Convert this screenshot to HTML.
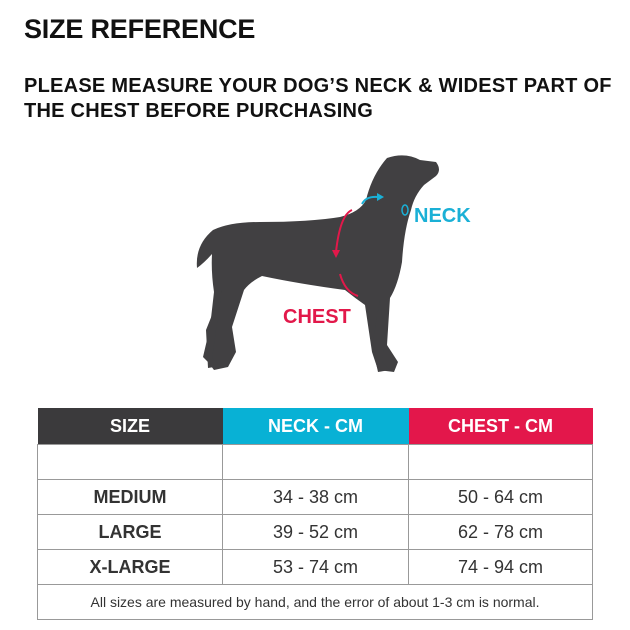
<!DOCTYPE html>
<html><head><meta charset="utf-8"><style>
body{margin:0;width:630px;height:630px;background:#fff;font-family:"Liberation Sans",sans-serif;position:relative;overflow:hidden}
.t{position:absolute;font-weight:bold;color:#111}
table{position:absolute;left:37px;top:408px;width:556px;border-collapse:collapse}
td{border:1px solid #999;text-align:center;height:34px;font-size:18px;color:#333;padding:0}
th{height:36px;color:#fff;font-size:18px;font-weight:bold;padding:0}
</style></head><body>
<div class="t" style="left:24px;top:14px;font-size:27px;letter-spacing:-0.2px">SIZE REFERENCE</div>
<div class="t" style="left:24px;top:74px;font-size:20px;line-height:25px;letter-spacing:0.25px">PLEASE MEASURE YOUR DOG’S NECK &amp; WIDEST PART OF<br>THE CHEST BEFORE PURCHASING</div>
<svg style="position:absolute;left:0;top:0" width="630" height="400">
<g fill="#414042">
<path d="M387 158 Q405 152 420 160 L436 162 Q442 170 436 176 L424 185 Q414 196 411 210 Q404 230 402 262 Q398 285 390 298 L387 345 L398 362 L394 372 L378 370 L372 352 L365 305 Q355 298 345 290 Q300 284 262 276 Q250 282 244 290 L232 327 L236 352 L228 367 L214 370 L208 362 L203 357 L210 327 L214 292 Q211 272 212 254 Q204 263 197 268 Q195 245 213 230 Q230 222 260 222 Q310 222 340 217 Q360 212 366 200 Q372 175 387 158Z"/>
<path d="M380 300 L385 340 L382 362 L390 370 L378 372 L372 345 Z"/>
<path d="M222 290 L216 330 L212 358 L220 366 L208 368 L206 330 Z"/>
</g>
<path d="M362 204 Q366 196 378 197" stroke="#1ab0d6" stroke-width="2" fill="none"/><path d="M384 197 l-7 -4 v8z" fill="#1ab0d6"/>
<ellipse cx="405" cy="210" rx="3" ry="5" stroke="#1ab0d6" stroke-width="1.5" fill="none"/>
<path d="M352 210 Q340 215 336 252" stroke="#e2184a" stroke-width="2" fill="none"/><path d="M336 258 l-4 -8 h8z" fill="#e2184a"/>
<path d="M340 274 Q345 292 358 296" stroke="#e2184a" stroke-width="2" fill="none"/>
<text x="414" y="222" font-family="Liberation Sans" font-weight="bold" font-size="20" fill="#1ab0d6">NECK</text>
<text x="283" y="323" font-family="Liberation Sans" font-weight="bold" font-size="20" fill="#e2184a">CHEST</text>
</svg>
<table>
<tr><th style="background:#3b3a3c;width:185px">SIZE</th><th style="background:#08b1d5;width:186px">NECK - CM</th><th style="background:#e3174b">CHEST - CM</th></tr>
<tr><td></td><td></td><td></td></tr>
<tr><td><b>MEDIUM</b></td><td>34 - 38 cm</td><td>50 - 64 cm</td></tr>
<tr><td><b>LARGE</b></td><td>39 - 52 cm</td><td>62 - 78 cm</td></tr>
<tr><td><b>X-LARGE</b></td><td>53 - 74 cm</td><td>74 - 94 cm</td></tr>
<tr><td colspan="3" style="font-size:14px">All sizes are measured by hand, and the error of about 1-3 cm is normal.</td></tr>
</table>
</body></html>
